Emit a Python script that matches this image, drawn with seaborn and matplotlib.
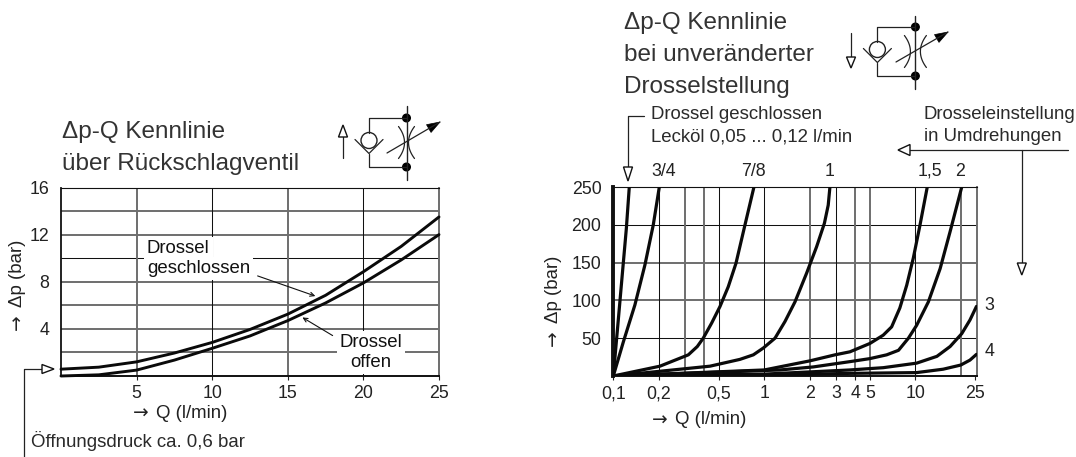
import matplotlib
matplotlib.use('Agg')
import matplotlib.pyplot as plt
from matplotlib.patches import Circle, Polygon
from matplotlib.ticker import NullLocator
import numpy as np
import seaborn as sns

# left chart: check valve
q_left = [0, 2.5, 5, 7.5, 10, 12.5, 15, 17.5, 20, 22.5, 25]
p_closed = [0.58, 0.75, 1.2, 1.95, 2.85, 3.95, 5.25, 6.85, 8.85, 11.0, 13.5]
p_open = [0.0, 0.1, 0.5, 1.35, 2.35, 3.4, 4.7, 6.2, 7.9, 9.85, 12.0]
left_xticks = [5, 10, 15, 20, 25]
left_yticks = [4, 8, 12, 16]
left_hgrid_dark = [10]
left_hgrid_gray = [2, 4, 6, 8, 12, 14]
left_vgrid_dark = [10, 20]
left_vgrid_gray = [5, 15]

# right chart: one curve per throttle setting
q_leak = [0.1, 0.108, 0.115, 0.122, 0.1276]
p_leak = [0, 75, 137, 195, 250]
q_34 = [0.1, 0.1165, 0.139, 0.162, 0.184, 0.2017]
p_34 = [0, 45, 94, 147, 200, 250]
q_78 = [0.1, 0.2037, 0.314, 0.36, 0.394, 0.448, 0.509, 0.577, 0.649, 0.745, 0.854]
p_78 = [0, 13, 28, 39, 50, 70, 92, 118, 149, 200, 250]
q_1 = [0.1, 0.437, 0.69, 0.846, 0.985, 1.177, 1.37, 1.596, 1.906, 2.22, 2.5, 2.65, 2.72]
p_1 = [0, 13, 22, 28, 37, 50, 72, 98, 136, 171, 202, 226, 250]
q_15 = [0.1, 1.0, 2.0, 2.94, 3.69, 5.0, 6.13, 6.97, 7.9, 8.77, 9.7, 10.7, 12.0]
p_15 = [0, 8, 20, 28, 32, 43, 54, 65, 90, 120, 156, 198, 250]
q_2 = [0.1, 1.27, 2.11, 3.69, 5.0, 6.46, 7.74, 9.0, 10.2, 12.2, 14.6, 17.0, 20.3]
p_2 = [0, 8, 12, 19, 23, 28, 34, 50, 67, 98, 142, 191, 250]
q_3 = [0.1, 1.0, 3.69, 6.13, 10.2, 13.9, 17.0, 20.3, 23.0, 25.4]
p_3 = [0, 2.5, 8, 11, 17, 26, 39, 56, 74, 92]
q_4 = [0.1, 1.0, 3.69, 10.2, 15.3, 20.0, 23.0, 25.4]
p_4 = [0, 1, 3.5, 4.5, 9, 14.5, 21, 28.6]
right_xticks = [0.1, 0.2, 0.5, 1, 2, 3, 4, 5, 10, 25]
right_xlabels = ['0,1', '0,2', '0,5', '1', '2', '3', '4', '5', '10', '25']
right_vgrid_dark = [0.2, 0.5, 1, 3, 10]
right_vgrid_gray = [0.3, 0.4, 2, 4, 5, 20]
right_hgrid_dark = [50, 200]
right_hgrid_gray = [100, 150]
right_yticks = [50, 100, 150, 200, 250]

W, H = 1076, 457
DARK = '#222222'
TITLE = 17.5
LABEL = 13.4
TICK = 12.8

sns.set_theme(style='white')
plt.rcParams['font.family'] = ['Liberation Sans', 'DejaVu Sans']


def place(fig, x0, x1, top, bottom):
    return fig.add_axes([x0 / W, 1 - bottom / H, (x1 - x0) / W, (bottom - top) / H])


def grid_lines(ax, hdark, hgray, vdark, vgray, xr, yr):
    # thin black and wider grey lines, as the scan has them
    ax.hlines(hdark, xr[0], xr[1], color='#111111', lw=0.75, zorder=1)
    ax.hlines(hgray, xr[0], xr[1], color='#6e6e6e', lw=1.4, zorder=1)
    ax.vlines(vdark, yr[0], yr[1], color='#111111', lw=0.75, zorder=1)
    ax.vlines(vgray, yr[0], yr[1], color='#6e6e6e', lw=1.4, zorder=1)


def style_axes(ax, left_lw):
    ax.grid(False)
    for s in ax.spines.values():
        s.set_color('#111111')
        s.set_linewidth(0.8)
    ax.spines['right'].set_color('#6e6e6e')
    ax.spines['right'].set_linewidth(1.4)
    ax.spines['left'].set_linewidth(left_lw)
    ax.spines['bottom'].set_linewidth(1.4)
    ax.tick_params(axis='both', which='major', length=3, width=0.8, labelsize=TICK,
                   colors=DARK, bottom=True, left=False)
    ax.tick_params(axis='x', pad=3.5)
    ax.tick_params(axis='y', pad=5.5)
    ax.set_xlabel('')
    ax.set_ylabel('')


def hollow_arrow(ov, tip, base_c, half):
    # tip and base_c in pixels, head is a white triangle
    dx, dy = base_c[0] - tip[0], base_c[1] - tip[1]
    n = np.hypot(dx, dy)
    px, py = -dy / n * half, dx / n * half
    ov.add_patch(Polygon([tip, (base_c[0] + px, base_c[1] + py), (base_c[0] - px, base_c[1] - py)],
                         closed=True, fc='white', ec='#111111', lw=1.0, zorder=5))


def valve(ov, x_main, x_check, y_top, y_bot, y_low, y_high, arrow_from, arrow_to, gap):
    c = '#222222'
    ymid = (y_top + y_bot) / 2
    ov.plot([x_main, x_main], [y_low, y_high], color=c, lw=1.0)
    ov.plot([x_main, x_check, x_check], [y_top, y_top, y_top + 15], color=c, lw=0.9)
    ov.plot([x_main, x_check, x_check], [y_bot, y_bot, y_bot - 13], color=c, lw=0.9)
    ov.add_patch(Circle((x_check, ymid - 2), 8, fc='white', ec=c, lw=1.0))
    ov.plot([x_check - 14, x_check, x_check + 14], [ymid - 3, ymid + 11, ymid - 3], color=c, lw=0.9)
    ov.add_patch(Circle((x_main, y_top), 3.8, fc='black', ec='black'))
    ov.add_patch(Circle((x_main, y_bot), 3.8, fc='black', ec='black'))
    t = np.linspace(-1, 1, 30)
    for side in (-1, 1):
        ov.plot(x_main + side * (gap + 6 * t ** 2), ymid + 16 * t, color=c, lw=0.9)
    ov.plot([arrow_from[0], arrow_to[0]], [arrow_from[1], arrow_to[1]], color=c, lw=0.9)
    dx, dy = arrow_to[0] - arrow_from[0], arrow_to[1] - arrow_from[1]
    n = np.hypot(dx, dy)
    ux, uy = dx / n, dy / n
    b = (arrow_to[0] - ux * 13, arrow_to[1] - uy * 13)
    ov.add_patch(Polygon([arrow_to, (b[0] - uy * 4.5, b[1] + ux * 4.5), (b[0] + uy * 4.5, b[1] - ux * 4.5)],
                         closed=True, fc='black', ec='black', lw=0.5))


fig = plt.figure(figsize=(W / 100, H / 100), dpi=100)

# --- left chart
ax1 = place(fig, 61, 439, 187.5, 376)
grid_lines(ax1, left_hgrid_dark, left_hgrid_gray, left_vgrid_dark, left_vgrid_gray, (0, 25), (0, 16))
sns.lineplot(x=q_left, y=p_closed, ax=ax1, color='#0a0a0a', linewidth=2.1, zorder=3, clip_on=False)
sns.lineplot(x=q_left, y=p_open, ax=ax1, color='#0a0a0a', linewidth=2.1, zorder=3, clip_on=False)
ax1.set_xlim(0, 25)
ax1.set_ylim(0, 16)
ax1.set_xticks(left_xticks)
ax1.set_yticks(left_yticks)
style_axes(ax1, 1.3)

# --- right chart
ax2 = place(fig, 613.3, 976.7, 187, 376)
ax2.set_xscale('log')
grid_lines(ax2, right_hgrid_dark, right_hgrid_gray, right_vgrid_dark, right_vgrid_gray, (0.1, 25.5), (0, 250))
for q, p in [(q_leak, p_leak), (q_34, p_34), (q_78, p_78), (q_1, p_1),
             (q_15, p_15), (q_2, p_2), (q_3, p_3), (q_4, p_4)]:
    sns.lineplot(x=q, y=p, ax=ax2, color='#0a0a0a', linewidth=2.3, zorder=3)
ax2.set_xlim(0.1, 25.5)
ax2.set_ylim(0, 250)
ax2.xaxis.set_minor_locator(NullLocator())
ax2.set_xticks(right_xticks)
ax2.set_xticklabels(right_xlabels)
ax2.set_yticks(right_yticks)
style_axes(ax2, 2.8)

# --- overlay in pixel coordinates for text and symbols
ov = fig.add_axes([0, 0, 1, 1], zorder=10)
ov.set_xlim(0, W)
ov.set_ylim(H, 0)
ov.axis('off')
ov.patch.set_alpha(0)

for s, x, y in [('Δp-Q Kennlinie', 62, 138), ('über Rückschlagventil', 62, 170),
                ('Δp-Q Kennlinie', 624, 29), ('bei unveränderter', 624, 61), ('Drosselstellung', 624, 93)]:
    ov.text(x, y, s, fontsize=TITLE, color='#333333', va='baseline')

for s, x, y in [('Drossel geschlossen', 651, 119), ('Lecköl 0,05 ... 0,12 l/min', 651, 141),
                ('Drosseleinstellung', 923.5, 119), ('in Umdrehungen', 923.5, 141),
                ('Öffnungsdruck ca. 0,6 bar', 31, 447)]:
    ov.text(x, y, s, fontsize=LABEL, color='#2a2a2a', va='baseline')

# axis labels, the arrow glyph is the wider one from DejaVu
for ax_x, ay, ty in [(17, 322, 273), (553, 338, 289)]:
    ov.text(ax_x, ay, '→', rotation=90, fontsize=LABEL, family='DejaVu Sans', color=DARK, ha='center', va='center')
    ov.text(ax_x, ty, 'Δp (bar)', rotation=90, fontsize=LABEL, color=DARK, ha='center', va='center')
for ax_x, ty in [(133, 413), (652, 420)]:
    ov.text(ax_x, ty, '→', fontsize=LABEL, family='DejaVu Sans', color=DARK, ha='left', va='center')
    ov.text(ax_x + 23, ty, 'Q (l/min)', fontsize=LABEL, color=DARK, ha='left', va='center')

# curve labels on the right chart
for s, x, y in [('3/4', 664, 171), ('7/8', 753, 171), ('1', 830, 171), ('1,5', 930, 171),
                ('2', 960, 171), ('3', 989, 305), ('4', 990, 352)]:
    ov.text(x, y, s, fontsize=TICK, color=DARK, ha='center', va='center')

# labels on the left chart, white box hides the grid
box = dict(fc='white', ec='none', pad=2)
ov.text(147, 253, 'Drossel', fontsize=13.4, color='#111111', va='baseline', bbox=box)
ov.text(147, 273, 'geschlossen', fontsize=13.4, color='#111111', va='baseline', bbox=box)
ov.text(371, 347, 'Drossel', fontsize=13.4, color='#111111', ha='center', va='baseline', bbox=box)
ov.text(371, 367, 'offen', fontsize=13.4, color='#111111', ha='center', va='baseline', bbox=box)
ov.annotate('', xy=(318, 297), xytext=(255, 275),
            arrowprops=dict(arrowstyle='->,head_length=0.25,head_width=0.12', lw=0.8, color='#111111'))
ov.annotate('', xy=(300, 316), xytext=(335, 337),
            arrowprops=dict(arrowstyle='->,head_length=0.25,head_width=0.12', lw=0.8, color='#111111'))

# leader arrows
ln = dict(color='#222222', lw=0.9)
ov.plot([24, 24, 42], [457, 369, 369], **ln)
hollow_arrow(ov, (54, 369), (42, 369), 4.5)
ov.plot([644, 628, 628], [116, 116, 167], **ln)
hollow_arrow(ov, (628, 181), (628, 167), 4.5)
ov.plot([1068, 910], [150, 150], **ln)
hollow_arrow(ov, (898, 150), (910, 150), 5.5)
ov.plot([1021.8, 1021.8], [150, 263], **ln)
hollow_arrow(ov, (1021.8, 275), (1021.8, 263), 4.5)

# flow direction arrows next to the symbols
ov.plot([343, 343], [158, 137], **ln)
hollow_arrow(ov, (343, 125), (343, 137), 4.5)
ov.plot([851, 851], [33, 57], **ln)
hollow_arrow(ov, (851, 68), (851, 57), 4.5)

valve(ov, 406.5, 369, 118, 167, 106, 180, (387, 153), (440, 122), 2)
valve(ov, 915.4, 877.4, 27, 76, 16, 89, (896, 62), (948, 32), 5)

fig.savefig('out.png', dpi=100)
